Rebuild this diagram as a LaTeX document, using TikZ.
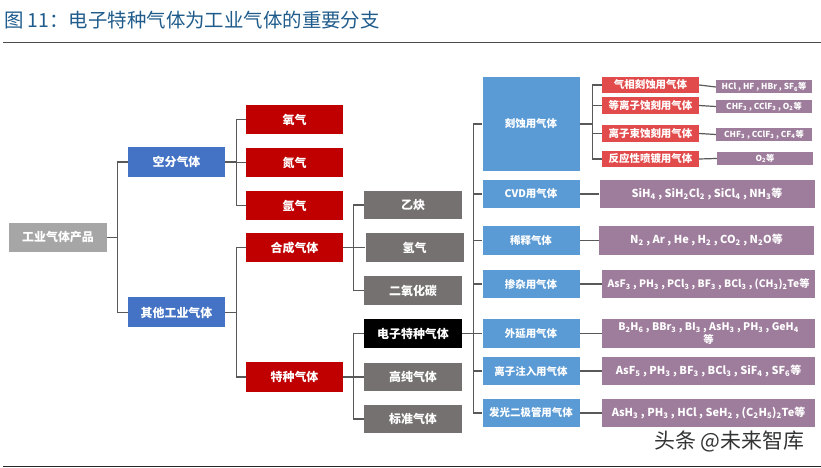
\documentclass[tikz,border=0pt]{standalone}
\usepackage{fontspec}
\setmainfont{Noto Sans CJK SC}
\definecolor{titlec}{RGB}{31,92,140}
\definecolor{rootgray}{HTML}{A6A6A6}
\definecolor{blueA}{HTML}{4472C4}
\definecolor{redA}{HTML}{C00000}
\definecolor{grayA}{HTML}{767171}
\definecolor{blueB}{HTML}{5B9BD5}
\definecolor{redB}{HTML}{E24B4B}
\definecolor{purA}{HTML}{9E7C9C}
\definecolor{linec}{HTML}{595959}
\begin{document}
\begin{tikzpicture}[x=1bp,y=-1bp,
  bx/.style={rectangle,inner sep=0pt,text=white,align=center,font=\bfseries\fontsize{12}{14}\selectfont},
  boxroot/.style={bx,fill=rootgray,minimum width=98bp,minimum height=29bp},
  boxlone/.style={bx,fill=blueA,minimum width=97bp,minimum height=30bp},
  boxred/.style={bx,fill=redA,minimum width=97bp,minimum height=29bp},
  boxgray/.style={bx,fill=grayA,minimum width=98bp,minimum height=28.5bp},
  boxblack/.style={bx,fill=black,minimum width=98bp,minimum height=29bp},
  boxblue/.style={bx,fill=blueB,minimum width=97bp,minimum height=28.5bp,font=\bfseries\fontsize{10.5}{12}\selectfont},
  boxredb/.style={bx,fill=redB,minimum width=97bp,minimum height=16.5bp,font=\bfseries\fontsize{10.5}{12}\selectfont},
  boxpur/.style={bx,fill=purA,minimum width=215bp,minimum height=28.5bp,font=\bfseries\fontsize{11}{12.5}\selectfont},
  boxpurs/.style={bx,fill=purA,minimum width=96bp,minimum height=13bp,font=\bfseries\fontsize{8.3}{9}\selectfont},
  conn/.style={draw=linec,line width=1.2bp},
]
\useasboundingbox[fill=white] (0,0) rectangle (821,468);
% title and rules
\node[anchor=west,inner sep=0pt,text=titlec,font=\fontsize{19.5}{21}\selectfont] (title) at (4,20) {图 11：电子特种气体为工业气体的重要分支};
\coordinate (rl) at (3,42.5); \coordinate (rr) at (821,42.5);
\draw[draw=linec!85!black,line width=1.3bp] (rl) -- (rr);
\coordinate (bl) at (3,466.5); \coordinate (br) at (821,466.5);
\draw[draw=black!85,line width=1.3bp] (bl) -- (br);
% level 0,1,2
\node[boxroot] (root) at (58,237.5) {工业气体产品};
\node[boxlone] (kf) at (176.5,162) {空分气体};
\node[boxlone] (qt) at (176.5,312.5) {其他工业气体};
\node[boxred] (o2) at (294.5,119.5) {氧气};
\node[boxred] (n2) at (294.5,162.5) {氮气};
\node[boxred] (ar) at (294.5,205.5) {氩气};
\node[boxred] (hc) at (294.5,247.5) {合成气体};
\node[boxred] (tz) at (294.5,377) {特种气体};
\node[boxgray] (yq) at (413,205) {乙炔};
\node[boxgray] (h2) at (414.5,247.5) {氢气};
\node[boxgray] (co2) at (413,290.5) {二氧化碳};
\node[boxblack] (dz) at (413,333.5) {电子特种气体};
\node[boxgray] (gc) at (413,377) {高纯气体};
\node[boxgray] (bz) at (413,419) {标准气体};
% right blue column
\node[boxblue,minimum height=94bp] (ks) at (531,124) {刻蚀用气体};
\node[boxblue] (cvd) at (531,194) {CVD用气体};
\node[boxblue] (xs) at (531,240.5) {稀释气体};
\node[boxblue] (cz) at (531,284) {掺杂用气体};
\node[boxblue] (wy) at (531,333.5) {外延用气体};
\node[boxblue] (lz) at (531,371) {离子注入用气体};
\node[boxblue] (fg) at (531,413) {发光二极管用气体};
% etch sub
\node[boxredb] (e1) at (650.5,85) {气相刻蚀用气体};
\node[boxredb] (e2) at (650.5,105.5) {等离子蚀刻用气体};
\node[boxredb] (e3) at (650.5,133.5) {离子束蚀刻用气体};
\node[boxredb] (e4) at (650.5,159) {反应性喷镀用气体};
\node[boxpurs] (s1) at (764,87) {HCl , HF , HBr , SF\textsubscript{6}等};
\node[boxpurs] (s2) at (764,106.5) {CHF\textsubscript{3} , CClF\textsubscript{3} , O\textsubscript{2}等};
\node[boxpurs] (s3) at (764,134.5) {CHF\textsubscript{3} , CClF\textsubscript{3} , CF\textsubscript{4}等};
\node[boxpurs] (s4) at (765,158.5) {O\textsubscript{2}等};
% purple big
\node[boxpur] (p1) at (707,194) {SiH\textsubscript{4} , SiH\textsubscript{2}Cl\textsubscript{2} , SiCl\textsubscript{4} , NH\textsubscript{3}等};
\node[boxpur] (p2) at (706.5,240.5) {N\textsubscript{2} , Ar , He , H\textsubscript{2} , CO\textsubscript{2} , N\textsubscript{2}O等};
\node[boxpur,minimum width=213bp,font=\bfseries\fontsize{10.3}{12}\selectfont] (p3) at (708.5,284) {AsF\textsubscript{3} , PH\textsubscript{3} , PCl\textsubscript{3} , BF\textsubscript{3} , BCl\textsubscript{3} , (CH\textsubscript{3})\textsubscript{2}Te等};
\node[boxpur,minimum width=213bp,font=\bfseries\fontsize{10.5}{12.5}\selectfont] (p4) at (708.5,333.5) {B\textsubscript{2}H\textsubscript{6} , BBr\textsubscript{3} , BI\textsubscript{3} , AsH\textsubscript{3} , PH\textsubscript{3} , GeH\textsubscript{4}\\等};
\node[boxpur,minimum width=213bp] (p5) at (708.5,371) {AsF\textsubscript{5} , PH\textsubscript{3} , BF\textsubscript{3} , BCl\textsubscript{3} , SiF\textsubscript{4} , SF\textsubscript{6}等};
\node[boxpur,minimum width=213bp] (p6) at (708.5,413) {AsH\textsubscript{3} , PH\textsubscript{3} , HCl , SeH\textsubscript{2} , (C\textsubscript{2}H\textsubscript{5})\textsubscript{2}Te等};
% connectors
\foreach \c in {kf,qt} \draw[conn] (root.east) -- ++(10,0) |- (\c.west);
\foreach \c in {o2,n2,ar} \draw[conn] (kf.east) -- ++(11,0) |- (\c.west);
\foreach \c in {hc,tz} \draw[conn] (qt.east) -- ++(11,0) |- (\c.west);
\foreach \c in {yq,h2,co2} \draw[conn] (hc.east) -- ++(10,0) |- (\c.west);
\foreach \c in {dz,gc,bz} \draw[conn] (tz.east) -- ++(10,0) |- (\c.west);
\foreach \c in {ks,cvd,xs,cz,wy,lz,fg} \draw[conn] (dz.east) -- ++(11,0) |- (\c.west);
\foreach \c in {e1,e2,e3,e4} \draw[conn] (ks.east) -- ++(13,0) |- (\c.west);
\draw[conn] (e1.east) -- (s1.west);
\draw[conn] (e2.east) -- (s2.west);
\draw[conn] (e3.east) -- (s3.west);
\draw[conn] (e4.east) -- (s4.west);
\draw[conn] (cvd.east) -- (p1.west);
\draw[conn] (xs.east) -- (p2.west);
\draw[conn] (cz.east) -- (p3.west);
\draw[conn] (wy.east) -- (p4.west);
\draw[conn] (lz.east) -- (p5.west);
\draw[conn] (fg.east) -- (p6.west);
% watermark
\node[anchor=west,inner sep=0pt,text=black!80,font=\fontsize{21}{23}\selectfont] (wm) at (654,441) {头条 @未来智库};
\end{tikzpicture}
\end{document}
